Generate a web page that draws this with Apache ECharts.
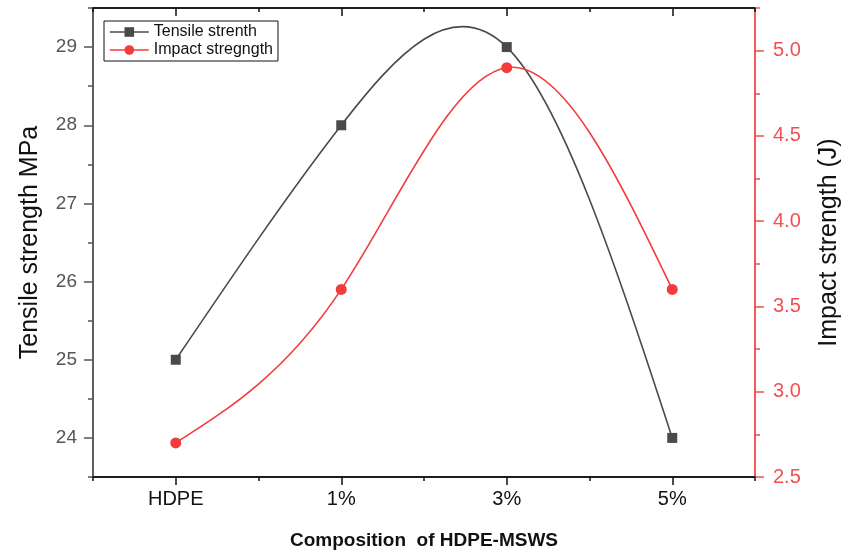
<!DOCTYPE html>
<html>
<head>
<meta charset="utf-8">
<script src="https://cdn.jsdelivr.net/npm/echarts@6/dist/echarts.min.js"></script>
<style>html,body{margin:0;padding:0;background:#fff}#c{width:843px;height:557px}</style>
</head>
<body>
<div id="c"></div>
<script>
const categories = ['HDPE', '1%', '3%', '5%'];
const tensile = [25, 28, 29, 24];
const impact = [2.7, 3.6, 4.9, 3.6];
const leftMajorTicks = [24, 25, 26, 27, 28, 29];
const leftMinorTicks = [23.5, 24.5, 25.5, 26.5, 27.5, 28.5, 29.5];
const rightMajorTicks = [2.5, 3.0, 3.5, 4.0, 4.5, 5.0];
const rightMinorTicks = [2.75, 3.25, 3.75, 4.25, 4.75, 5.25];
const leftRange = [23.5, 29.5];
const rightRange = [2.5, 5.25];

const FONT = 'Liberation Sans, Arial, sans-serif';
const GRAY = '#555555';
const RED = '#f23c3c';
const RED_AXIS = '#f25050';
const DARK = '#4a4a4a';

// natural cubic spline second derivatives (unit spacing), used for smoothing like the source plot
function splineM(ys) {
  const n = ys.length;
  const M = new Array(n).fill(0);
  if (n < 3) return M;
  const a = [], b = [], c = [], d = [];
  for (let i = 1; i < n - 1; i++) {
    a.push(1); b.push(4); c.push(1);
    d.push(6 * (ys[i - 1] - 2 * ys[i] + ys[i + 1]));
  }
  const m = d.length;
  for (let i = 1; i < m; i++) {
    const w = a[i] / b[i - 1];
    b[i] -= w * c[i - 1];
    d[i] -= w * d[i - 1];
  }
  const x = new Array(m);
  x[m - 1] = d[m - 1] / b[m - 1];
  for (let i = m - 2; i >= 0; i--) x[i] = (d[i] - c[i] * x[i + 1]) / b[i];
  for (let i = 0; i < m; i++) M[i + 1] = x[i];
  return M;
}

function splineRenderer(ys, color) {
  const M = splineM(ys);
  return function (params, api) {
    const i = params.dataIndex;
    if (i >= ys.length - 1) return null;
    const dy = ys[i + 1] - ys[i];
    const d0 = dy - (2 * M[i] + M[i + 1]) / 6;
    const d1 = dy + (M[i] + 2 * M[i + 1]) / 6;
    const p0 = api.coord([i, ys[i]]);
    const p3 = api.coord([i + 1, ys[i + 1]]);
    const c1y = api.coord([i, ys[i] + d0 / 3])[1];
    const c2y = api.coord([i + 1, ys[i + 1] - d1 / 3])[1];
    const dx = (p3[0] - p0[0]) / 3;
    return {
      type: 'bezierCurve',
      shape: {x1: p0[0], y1: p0[1], x2: p3[0], y2: p3[1],
        cpx1: p0[0] + dx, cpy1: c1y, cpx2: p3[0] - dx, cpy2: c2y},
      style: {stroke: color, lineWidth: 1.6, fill: null}
    };
  };
}

const chart = echarts.init(document.getElementById('c'), null, {renderer: 'canvas'});

function xAx(pos, major, inside, showLabel, name) {
  return {
    type: 'category', data: categories, position: pos, boundaryGap: true,
    axisLine: {show: true, onZero: false, lineStyle: {color: '#111', width: 1.5}},
    axisTick: {show: true, alignWithLabel: major, inside: inside, length: major ? 8 : 4,
      lineStyle: {color: '#111', width: 1.5}},
    axisLabel: {show: showLabel, color: '#111', fontSize: 20, fontFamily: FONT, margin: 12},
    splitLine: {show: false},
    name: name || '', nameLocation: 'middle', nameGap: 54,
    nameTextStyle: {fontSize: 19, fontWeight: 'bold', color: '#111', fontFamily: FONT}
  };
}
function yAx(pos, range, ticks, major, color, labelColor, showLabel, name, gap, dec, fs) {
  return {
    type: 'value', position: pos, min: range[0], max: range[1],
    axisLine: {show: true, lineStyle: {color: color, width: 1.5}},
    axisTick: {show: true, customValues: ticks, length: major ? 9 : 5, lineStyle: {color: color, width: 1.5}},
    axisLabel: {show: showLabel, customValues: ticks, color: labelColor, fontSize: fs || 19, fontFamily: FONT,
      margin: pos === 'left' ? 16 : 18,
      formatter: v => dec ? Number(v).toFixed(1) : String(Math.round(v))},
    splitLine: {show: false},
    name: name || '', nameLocation: 'middle', nameGap: gap || 0,
    nameTextStyle: {fontSize: 25, color: '#111', fontFamily: FONT}
  };
}

chart.setOption({
  backgroundColor: '#fff',
  animation: false,
  grid: {left: 93, right: 88, top: 8, bottom: 80, containLabel: false, outerBoundsMode: 'none'},
  legend: {
    show: true, orient: 'vertical', left: 104, top: 21,
    borderColor: '#111', borderWidth: 1, padding: [3, 5, 3, 5], itemGap: 2,
    itemWidth: 39, itemHeight: 12,
    textStyle: {fontSize: 16, color: '#111', fontFamily: FONT},
    data: [
      {name: 'Tensile strenth', lineStyle: {color: DARK, width: 1.6, opacity: 1}, itemStyle: {color: DARK}},
      {name: 'Impact stregngth', lineStyle: {color: RED, width: 1.6, opacity: 1}, itemStyle: {color: RED}}
    ]
  },
  xAxis: [
    xAx('bottom', true, false, true, 'Composition  of HDPE-MSWS'),
    xAx('bottom', false, false, false),
    xAx('top', true, true, false),
    xAx('top', false, true, false)
  ],
  yAxis: [
    yAx('left', leftRange, leftMajorTicks, true, GRAY, GRAY, true, 'Tensile strength MPa', 50, false, 19),
    yAx('left', leftRange, leftMinorTicks, false, GRAY, GRAY, false),
    yAx('right', rightRange, rightMajorTicks, true, RED_AXIS, RED_AXIS, true, 'Impact strength (J)', 62, true, 20),
    yAx('right', rightRange, rightMinorTicks, false, RED_AXIS, RED_AXIS, false)
  ],
  series: [
    {
      type: 'custom', name: 'tensile-curve', xAxisIndex: 0, yAxisIndex: 0,
      data: tensile.map((v, i) => [i, v]), renderItem: splineRenderer(tensile, DARK),
      silent: true, z: 2, clip: false
    },
    {
      type: 'custom', name: 'impact-curve', xAxisIndex: 0, yAxisIndex: 2,
      data: impact.map((v, i) => [i, v]), renderItem: splineRenderer(impact, RED),
      silent: true, z: 2, clip: false
    },
    {
      name: 'Tensile strenth', type: 'line', xAxisIndex: 0, yAxisIndex: 0, data: tensile,
      symbol: 'rect', symbolSize: 10,
      lineStyle: {color: DARK, width: 1.6, opacity: 0}, itemStyle: {color: DARK}, z: 3
    },
    {
      name: 'Impact stregngth', type: 'line', xAxisIndex: 0, yAxisIndex: 2, data: impact,
      symbol: 'circle', symbolSize: 11,
      lineStyle: {color: RED, width: 1.6, opacity: 0}, itemStyle: {color: RED}, z: 3
    }
  ]
});
</script>
</body>
</html>
